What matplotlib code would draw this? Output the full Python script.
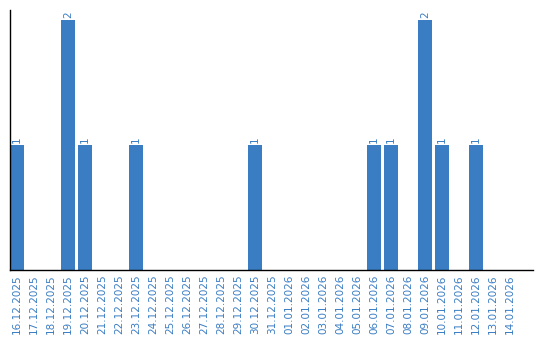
import numpy as np
import matplotlib
matplotlib.use("Agg")
import matplotlib.pyplot as plt

dates = ["16.12.2025", "17.12.2025", "18.12.2025", "19.12.2025", "20.12.2025",
         "21.12.2025", "22.12.2025", "23.12.2025", "24.12.2025", "25.12.2025",
         "26.12.2025", "27.12.2025", "28.12.2025", "29.12.2025", "30.12.2025",
         "31.12.2025", "01.01.2026", "02.01.2026", "03.01.2026", "04.01.2026",
         "05.01.2026", "06.01.2026", "07.01.2026", "08.01.2026", "09.01.2026",
         "10.01.2026", "11.01.2026", "12.01.2026", "13.01.2026", "14.01.2026"]
counts = [1, 0, 0, 2, 1, 0, 0, 1, 0, 0, 0, 0, 0, 0, 1,
          0, 0, 0, 0, 0, 0, 1, 1, 0, 2, 1, 0, 1, 0, 0]

blue = "#3a7dc3"

fig = plt.figure(figsize=(5.4, 3.4), dpi=100)
ax = fig.add_axes([10/540, 70/340, 523/540, 260/340])

x = np.arange(len(dates))
ax.bar(x, counts, width=14/17, color=blue)

for xi, c in zip(x, counts):
    if c > 0:
        ax.text(xi, c + 0.02, str(c), rotation=90, ha="center", va="bottom",
                color=blue, fontsize=7.5)

ax.set_xlim(-7/17, 30.35)
ax.set_ylim(0, 2.08)
ax.set_xticks(x)
ax.set_xticklabels(dates, rotation=90, color=blue, fontsize=7.5)
ax.tick_params(axis="x", length=0, pad=3)
ax.set_yticks([])
ax.spines["top"].set_visible(False)
ax.spines["right"].set_visible(False)
ax.spines["left"].set_linewidth(1)
ax.spines["bottom"].set_linewidth(1)

fig.savefig("out.png", dpi=100)
